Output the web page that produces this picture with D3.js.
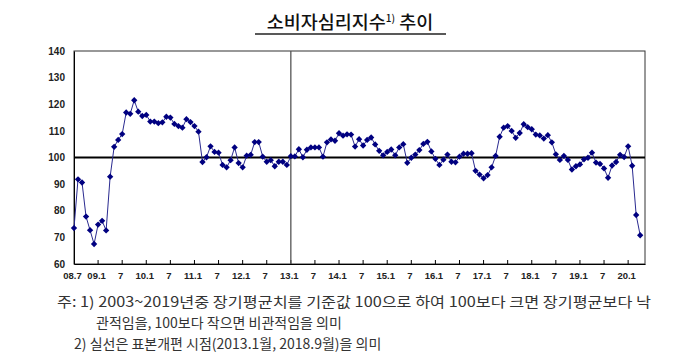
<!DOCTYPE html>
<html><head><meta charset="utf-8">
<script src="https://cdn.jsdelivr.net/npm/d3@7"></script>
<style>
html,body{margin:0;padding:0;background:#fff;}
svg{display:block;}
</style>
</head><body>
<svg id="chart" width="700" height="358"></svg>
<script>
// Monthly CCSI values, 2008.7 ~ 2020.4
const startYear = 2008, startMonth = 7;
const values = [
 73.5, 91.8, 90.6, 77.8, 72.7, 67.5, 74.8, 76.2, 72.6, 92.8, 104.0, 106.6,
 108.8, 116.9, 116.4, 121.5, 117.2, 115.6, 116.0, 113.5, 113.5, 112.9, 113.2, 115.3,
 115.0, 112.6, 111.8, 111.2, 114.4, 113.3, 111.8, 109.7, 98.3, 100.1, 104.2, 102.1,
 101.8, 97.2, 96.3, 99.0, 103.8, 97.9, 96.3, 100.7, 101.0, 105.8, 105.8, 100.3,
 98.4, 99.0, 96.7, 98.4, 98.4, 97.2, 100.5, 100.4, 103.1, 100.1, 102.9, 103.8,
 103.8, 103.8, 100.3, 105.7, 106.8, 106.3, 109.1, 108.2, 108.7, 108.6, 104.1, 106.9,
 104.5, 106.6, 107.5, 104.9, 102.5, 100.8, 102.1, 103.0, 100.8, 103.8, 105.0, 98.0,
 99.9, 101.1, 102.8, 105.1, 105.9, 102.3, 99.5, 97.2, 99.2, 101.1, 98.4, 98.2,
 100.3, 101.4, 101.4, 101.6, 95.0, 93.6, 92.2, 93.4, 96.3, 100.6, 107.8, 111.2,
 111.8, 110.0, 107.4, 109.2, 112.5, 111.4, 110.6, 108.6, 108.3, 107.1, 108.4, 105.7,
 101.2, 99.1, 100.6, 99.1, 95.5, 96.7, 97.4, 99.3, 99.9, 101.8, 98.1, 97.6,
 95.9, 92.4, 97.0, 98.3, 101.0, 100.2, 104.2, 96.9, 78.4, 70.8
];
const xTickLabels = ["08.7","09.1","7","10.1","7","11.1","7","12.1","7","13.1","7","14.1",
 "7","15.1","7","16.1","7","17.1","7","18.1","7","19.1","7","20.1"];
const yTicks = [60,70,80,90,100,110,120,130,140];
const referenceValue = 100;
const breakLabel = "13.1";
const title = "소비자심리지수";
const titleSup = "1)";
const titleTail = " 추이";
const notes = [
 "주: 1) 2003~2019년중 장기평균치를 기준값 100으로 하여 100보다 크면 장기평균보다 낙",
 "관적임을, 100보다 작으면 비관적임을 의미",
 "2) 실선은 표본개편 시점(2013.1월, 2018.9월)을 의미"
];

const svg = d3.select("#chart");
const L = 74, R = 645, T = 51, B = 264;
const x = d3.scaleLinear().domain([0, 142.2]).range([L, R]);
const y = d3.scaleLinear().domain([60, 140]).range([B, T]);
const tickIdx = xTickLabels.map((d, i) => i * 6);

// Title
const tg = svg.append("text").attr("x", 350).attr("y", 29).attr("text-anchor", "middle")
  .attr("font-family", "'Noto Sans CJK KR'").attr("font-size", 18.5).attr("font-weight", 500).attr("fill", "#111");
tg.append("tspan").text(title);
tg.append("tspan").attr("font-size", 10).attr("dy", -7).text(titleSup);
tg.append("tspan").attr("dy", 7).text(titleTail);
svg.append("line").attr("x1", 255).attr("x2", 446).attr("y1", 34).attr("y2", 34)
  .attr("stroke", "#222").attr("stroke-width", 1.5);

// plot frame
svg.append("rect").attr("x", L).attr("y", T).attr("width", R - L).attr("height", B - T)
  .attr("fill", "none").attr("stroke", "#333").attr("stroke-width", 1);

// y axis
const yAxis = d3.axisLeft(y).tickValues(yTicks).tickSize(0).tickPadding(9);
const ya = svg.append("g").attr("transform", `translate(${L},0)`).call(yAxis);
ya.select(".domain").attr("stroke", "#000");
ya.selectAll("text").attr("font-family", "'Liberation Sans', Arial").attr("font-size", 10)
  .attr("font-weight", "bold").attr("fill", "#222");

// x axis
const xAxis = d3.axisBottom(x).tickValues(tickIdx).tickSize(0).tickPadding(0)
  .tickFormat((d, i) => xTickLabels[i]);
const xa = svg.append("g").attr("transform", `translate(0,${B})`).call(xAxis);
xa.select(".domain").attr("stroke", "#000");
xa.selectAll("text").attr("y", 14.5).attr("dy", 0).attr("dx", -2)
  .attr("font-family", "'Liberation Sans', Arial").attr("font-size", 9.5)
  .attr("font-weight", "bold").attr("fill", "#222");
// inward tick marks
svg.append("g").selectAll("line").data(tickIdx.slice(1)).join("line")
  .attr("x1", d => x(d)).attr("x2", d => x(d)).attr("y1", B).attr("y2", B - 4)
  .attr("stroke", "#000").attr("stroke-width", 1);

// sample revision line at 2013.1
const bi = tickIdx[xTickLabels.indexOf(breakLabel)];
svg.append("line").attr("x1", x(bi)).attr("x2", x(bi)).attr("y1", T).attr("y2", B)
  .attr("stroke", "#555").attr("stroke-width", 1.3);

// reference line 100
svg.append("line").attr("x1", L).attr("x2", R).attr("y1", y(referenceValue)).attr("y2", y(referenceValue))
  .attr("stroke", "#000").attr("stroke-width", 2);

// series
const line = d3.line().x((d, i) => x(i)).y(d => y(d));
svg.append("path").datum(values).attr("d", line).attr("fill", "none")
  .attr("stroke", "#2a2a90").attr("stroke-width", 1);
const sym = d3.symbol().type(d3.symbolSquare).size(20);
svg.append("g").selectAll("path").data(values).join("path")
  .attr("d", sym).attr("fill", "#000080")
  .attr("transform", (d, i) => `translate(${x(i)},${y(d)}) rotate(45)`);

// notes
const nf = "'Noto Sans CJK KR'";
svg.append("text").attr("x", 57).attr("y", 307).attr("font-family", nf).attr("font-size", 14)
  .attr("fill", "#333").attr("textLength", 594).attr("lengthAdjust", "spacingAndGlyphs").text(notes[0]);
svg.append("text").attr("x", 96).attr("y", 328).attr("font-family", nf).attr("font-size", 14)
  .attr("fill", "#333").text(notes[1]);
svg.append("text").attr("x", 74).attr("y", 349).attr("font-family", nf).attr("font-size", 14)
  .attr("fill", "#333").text(notes[2]);
</script>
</body></html>
